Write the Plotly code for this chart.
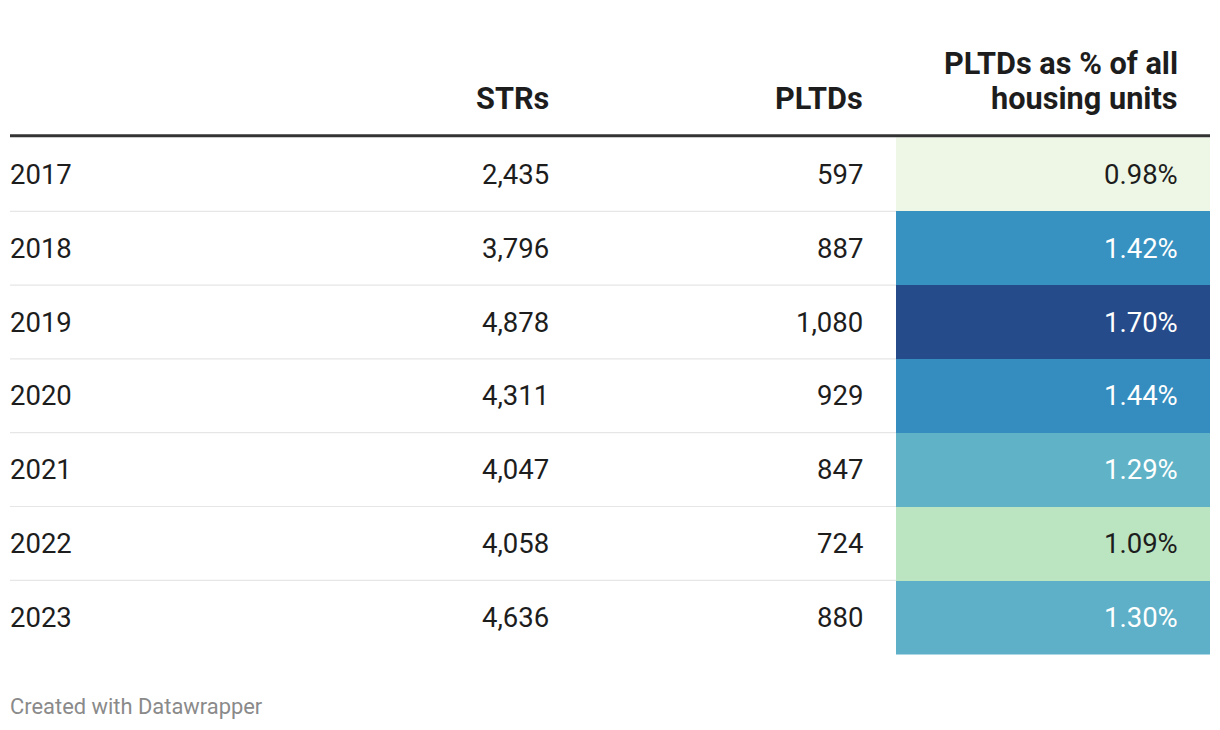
import plotly.graph_objects as go

years = ["2017", "2018", "2019", "2020", "2021", "2022", "2023"]
strs = [2435, 3796, 4878, 4311, 4047, 4058, 4636]
pltds = [597, 887, 1080, 929, 847, 724, 880]
pct = [0.98, 1.42, 1.70, 1.44, 1.29, 1.09, 1.30]
headers = ["STRs", "PLTDs", "PLTDs as % of all<br>housing units"]

# page coordinates (the html body has an 8px margin)
W, H = 1220, 730
OFF = 8
TOP = 137.5
ROW_H = 73.8
LEFT, RIGHT = 10, 1210
COL_STR, COL_PLTD, COL_PCT = 549, 863, 1178
HEAT_X0 = 896
PAD = 2  # annotation inner padding compensation
FONT = "Roboto"
TXT = "#1d1d1d"
FS = 27.5
HFS = 30.7

n = len(years)
row_edges = [TOP + ROW_H * i for i in range(n + 1)]
row_centers = [TOP + ROW_H * (i + 0.5) for i in range(n)]

colorscale = [
    [0.0, "#eef7e6"],
    [0.15, "#bce4c0"],
    [0.30, "#8dd0c2"],
    [0.43, "#60b3c7"],
    [0.62, "#3590c1"],
    [1.0, "#254b8a"],
]

fig = go.Figure()
fig.add_trace(go.Heatmap(
    x=[HEAT_X0, RIGHT], y=row_edges, z=[[v] for v in pct],
    zmin=min(pct), zmax=max(pct), colorscale=colorscale,
    showscale=False, hoverinfo="skip", xgap=0, ygap=0,
))

shapes = []
for i in range(1, n):
    shapes.append(dict(type="line", xref="x", yref="y", x0=LEFT, x1=HEAT_X0,
                       y0=row_edges[i], y1=row_edges[i],
                       line=dict(color="#e6e6e6", width=1.2), layer="below"))
shapes.append(dict(type="line", xref="x", yref="y", x0=LEFT, x1=RIGHT,
                   y0=TOP - 1.8, y1=TOP - 1.8, line=dict(color="#333333", width=3)))

ann = []
def add(x, y, text, anchor="right", color=TXT, size=FS, bold=False, yanchor="middle"):
    xx = x + PAD if anchor == "right" else x - PAD
    ann.append(dict(x=xx, y=y, xref="x", yref="y", text=(f"<b>{text}</b>" if bold else text),
                    showarrow=False, xanchor=anchor, yanchor=yanchor,
                    font=dict(family=FONT, size=size, color=color)))

for i in range(n):
    yc = row_centers[i]
    add(LEFT, yc, years[i], anchor="left")
    add(COL_STR, yc, f"{strs[i]:,}")
    add(COL_PLTD, yc, f"{pltds[i]:,}")
    frac = (pct[i] - min(pct)) / (max(pct) - min(pct))
    add(COL_PCT, yc, f"{pct[i]:.2f}%", color=("#ffffff" if frac > 0.35 else TXT))

add(COL_STR, 98, headers[0], bold=True, size=HFS)
add(COL_PLTD, 98, headers[1], bold=True, size=HFS)
h3 = headers[2].split("<br>")
add(COL_PCT, 63.5, h3[0], bold=True, size=HFS)
add(COL_PCT, 98, h3[1], bold=True, size=HFS)

add(LEFT, 706, "Created with Datawrapper", anchor="left", color="#8a8a8a", size=21.9)

fig.update_layout(
    width=W - 2 * OFF, height=H - 2 * OFF, margin=dict(l=0, r=0, t=0, b=0),
    paper_bgcolor="white", plot_bgcolor="white",
    xaxis=dict(range=[OFF, W - OFF], visible=False, fixedrange=True),
    yaxis=dict(range=[H - OFF, OFF], visible=False, fixedrange=True),
    shapes=shapes, annotations=ann, showlegend=False,
)
fig.write_html("out.html")
